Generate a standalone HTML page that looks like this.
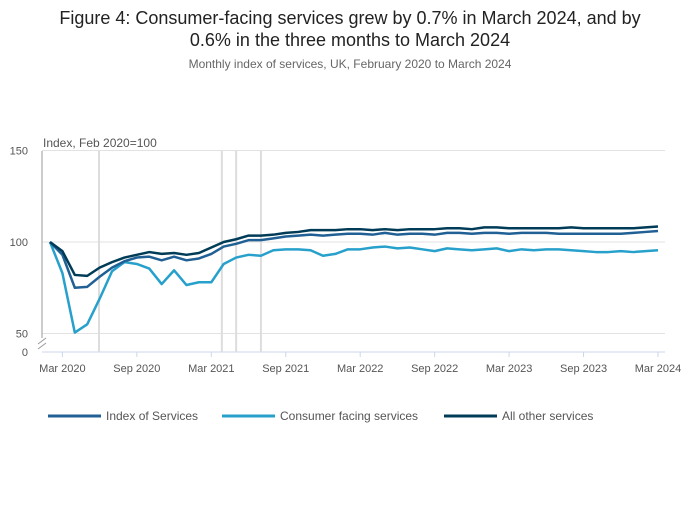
<!DOCTYPE html>
<html><head><meta charset="utf-8"><style>
body{margin:0;background:#fff;font-family:"Liberation Sans",sans-serif;}
svg text{font-family:"Liberation Sans",sans-serif;}
</style></head><body>
<svg width="700" height="502" id="c">
<text x="350" y="24" text-anchor="middle" font-size="18" fill="#222">Figure 4: Consumer-facing services grew by 0.7% in March 2024, and by</text>
<text x="350" y="46" text-anchor="middle" font-size="18" fill="#222">0.6% in the three months to March 2024</text>
<text x="350" y="68" text-anchor="middle" font-size="12" fill="#666">Monthly index of services, UK, February 2020 to March 2024</text>
<text x="43" y="147" font-size="12" fill="#555">Index, Feb 2020=100</text>
<g id="grid"></g><g id="lines"></g>
</svg>
<script>
const months=["Mar 2020","Sep 2020","Mar 2021","Sep 2021","Mar 2022","Sep 2022","Mar 2023","Sep 2023","Mar 2024"];
const tickIdx=[1,7,13,19,25,31,37,43,49];
const yTicks=[50,100,150];
const markers=[3.95,13.85,15,17];
const ios=[100,93,75,75.5,81,86,89.5,91.5,92,90,92,90,91,93.5,97.5,99,101,101,102,103,103.5,104,103.5,104,104.5,104.5,104,105,104,104.5,104.5,104,105,105,104.5,105,105,104.5,105,105,105,104.5,104.5,104.5,104.5,104.5,104.5,105,105.5,106];
const cfs=[100,83,50.5,55,69,84,89,88,85.5,77,84.5,76.5,78,78,88,91.5,93,92.5,95.5,96,96,95.5,92.5,93.5,96,96,97,97.5,96.5,97,96,95,96.5,96,95.5,96,96.5,95,96,95.5,96,96,95.5,95,94.5,94.5,95,94.5,95,95.5];
const aos=[100,95,82,81.5,86,89,91.5,93,94.5,93.5,94,93,94,97,100,101.5,103.5,103.5,104,105,105.5,106.5,106.5,106.5,107,107,106.5,107,106.5,107,107,107,107.5,107.5,107,108,108,107.5,107.5,107.5,107.5,107.5,108,107.5,107.5,107.5,107.5,107.5,108,108.5];
const ns="http://www.w3.org/2000/svg";
const X=i=>50+i*(608/49);
const Y=v=>242-(v-100)*1.83;
function mk(t,a,p){const e=document.createElementNS(ns,t);for(const k in a)e.setAttribute(k,a[k]);p.appendChild(e);return e;}
const g=document.getElementById('grid'),L=document.getElementById('lines');
yTicks.forEach(v=>{
 const l=mk('line',{x1:42,x2:665,y1:Y(v),y2:Y(v),stroke:'#e2e2e2'},g);
 
 
 const t=mk('text',{x:28,y:Y(v)+4,'text-anchor':'end','font-size':11,fill:'#555'},g);t.textContent=v;
 
 
});
const z=mk('text',{x:28,y:356,'text-anchor':'end','font-size':11,fill:'#555'},g);z.textContent='0';


mk('line',{x1:42,x2:42,y1:151,y2:338,stroke:'#999'},g);
mk('path',{d:'M38,344 L46,338 M38,349 L46,343',stroke:'#999',fill:'none'},g);
mk('line',{x1:42,x2:665,y1:352,y2:352,stroke:'#ccd6eb'},g);
markers.forEach(i=>{const l=mk('line',{x1:X(i),x2:X(i),y1:151,y2:352,stroke:'#ddd','stroke-width':2},g);
 
 });
tickIdx.forEach((i,k)=>{
 mk('line',{x1:X(i),x2:X(i),y1:352,y2:357,stroke:'#ccd6eb'},g);
 const t=mk('text',{x:X(i),y:372,'text-anchor':'middle','font-size':11,fill:'#555'},g);t.textContent=months[k];
 
 
});
function line(d,c,name){
 const p=mk('polyline',{points:d.map((v,i)=>X(i)+','+Y(v)).join(' '),fill:'none',stroke:c,'stroke-width':2.5,'stroke-linejoin':'round'},L);
 
 
}
line(cfs,'#27a0cc','line-consumer-facing');
line(ios,'#206095','line-index-of-services');
line(aos,'#003c57','line-all-other');
const leg=[['Index of Services','#206095',48],['Consumer facing services','#27a0cc',222],['All other services','#003c57',444]];
leg.forEach(([n,c,x])=>{
 const gg=mk('g',{},L);
 
 
 mk('line',{x1:x,x2:x+53,y1:416,y2:416,stroke:c,'stroke-width':3},gg);
 const t=mk('text',{x:x+58,y:420,'font-size':12,fill:'#555'},gg);t.textContent=n;
});
</script>
</body></html>
